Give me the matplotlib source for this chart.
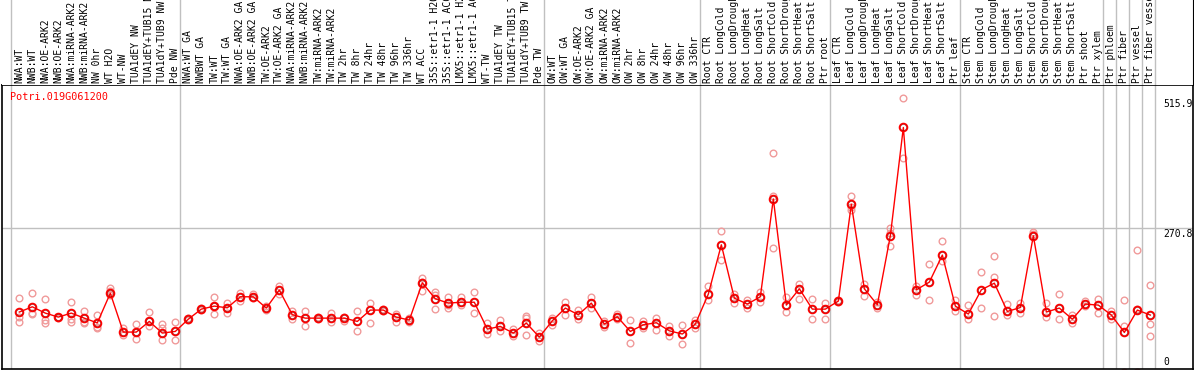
import numpy as np
import matplotlib
matplotlib.use('Agg')
import matplotlib.pyplot as plt

# sample labels (88 columns)
labels = [
    'NWA:WT', 'NWB:WT', 'NWA:OE-ARK2', 'NWB:OE-ARK2', 'NWA:miRNA-ARK2', 'NWB:miRNA-ARK2',
    'NW 0hr', 'WT H2O', 'WT-NW', 'TUA1dEY NW', 'TUA1dEY+TUB15 NW', 'TUA1dY+TUB9 NW', 'Pde NW',
    'NWA:WT GA', 'NWBWT GA', 'TW:WT', 'TW:WT GA', 'NWA:OE-ARK2 GA', 'NWB:OE-ARK2 GA',
    'TW:OE-ARK2', 'TW:OE-ARK2 GA', 'NWA:miRNA-ARK2 GA', 'NWB:miRNA-ARK2 GA', 'TW:miRNA-ARK2',
    'TW:miRNA-ARK2', 'TW 2hr', 'TW 8hr', 'TW 24hr', 'TW 48hr', 'TW 96hr', 'TW 336hr', 'WT ACC',
    '35S::etr1-1 H2O', '35S::etr1-1 ACC', 'LMX5::etr1-1 H2O', 'LMX5::etr1-1 ACC', 'WT-TW',
    'TUA1dEY TW', 'TUA1dEY+TUB15 TW', 'TUA1dY+TUB9 TW', 'Pde TW',
    'OW:WT', 'OW:WT GA', 'OW:OE-ARK2', 'OW:OE-ARK2 GA', 'OW:miRNA-ARK2', 'OW:miRNA-ARK2',
    'OW 2hr', 'OW 8hr', 'OW 24hr', 'OW 48hr', 'OW 96hr', 'OW 336hr',
    'Root CTR', 'Root LongCold', 'Root LongDrought', 'Root LongHeat', 'Root LongSalt',
    'Root ShortCold', 'Root ShortDrought', 'Root ShortHeat', 'Root ShortSalt', 'Ptr root',
    'Leaf CTR', 'Leaf LongCold', 'Leaf LongDrought', 'Leaf LongHeat', 'Leaf LongSalt',
    'Leaf ShortCold', 'Leaf ShortDrought', 'Leaf ShortHeat', 'Leaf ShortSalt', 'Ptr leaf',
    'Stem CTR', 'Stem LongCold', 'Stem LongDrought', 'Stem LongHeat', 'Stem LongSalt',
    'Stem ShortCold', 'Stem ShortDrought', 'Stem ShortHeat', 'Stem ShortSalt', 'Ptr shoot',
    'Ptr xylem', 'Ptr phloem', 'Ptr fiber', 'Ptr vessel', 'Ptr fiber vessel',
]

# mean expression per column
means = [
    112.5, 122.4, 110.5, 103, 110.5, 101, 92, 148, 74.7, 74.7, 94.8, 72.8, 75.9,
    99, 118, 123.7, 120.5, 141.3, 141.3, 120, 154, 107.4, 101, 101, 101, 101, 94.8, 116.2,
    116.2, 103, 97.3, 167.7, 137.5, 129.4, 131, 131, 80.3, 85.4, 72.8, 91.7, 65.3,
    96, 120, 107.4, 129.4, 89.8, 103.6, 75.9, 88.5, 92.3, 77, 71, 89.8,
    146.4, 239.4, 138.8, 127.5, 141.3, 326, 125.6, 156.4, 118, 118,
    133.2, 316, 156.4, 126.2, 256.4, 460.8, 154.5, 169, 220, 123.7,
    108.7, 154.5, 167, 113.6, 121, 256.4, 112.5, 120, 99, 127.5,
    125.6, 106.8, 74, 116.2, 106.8,
]

# replicate values per column
reps = [
    [139, 103, 94], [148, 110, 108], [137.5, 98, 92], [104, 103, 102], [131, 99, 93.5],
    [114, 93.5, 91], [106, 85, 81.6], [157.7, 153, 145], [81.5, 68.3], [90, 74.7, 60.8],
    [112.5, 94.8, 86], [89, 82, 59.6], [93.5, 59],
    [101, 97], [121, 116], [141, 123.7, 108.6], [128.7, 120.5, 111], [148, 133.8], [146, 139],
    [124, 116], [161.5, 146.4], [115, 100], [115, 86.6], [103, 99], [110, 93.5], [103, 96],
    [113.6, 76], [129.4, 92.3], [118, 114], [108.6, 93.5], [101, 93.5], [176.5, 170, 152.6],
    [150, 144, 118.6], [141.3, 126, 120], [140, 126], [150, 110.5], [92.3, 71], [97.3, 77],
    [80.3, 66.5], [105.4, 101, 69], [72.8, 58.3],
    [101, 88], [131, 107.4], [115.5, 98.5], [140, 120], [96, 85], [108.6, 98.5], [97.3, 54],
    [96, 82], [101, 79], [86, 66.5], [88.5, 52], [97.3, 82],
    [161.5, 136], [265.3, 209.8], [146.4, 128.7], [135.7, 121], [150, 131], [412.5, 332, 233],
    [141.3, 113], [165.3, 137.5], [137, 99], [129.4, 99],
    [135, 131], [331.3, 311, 305.5], [165.3, 142.6], [131, 120], [272, 262, 237], [516.2, 403],
    [160.8, 143.8], [203, 135.7], [246.4, 208], [135, 115],
    [125, 99.8], [188, 120], [218, 179, 105], [128, 106], [129.4, 110], [264.5, 260],
    [129.4, 104], [146.4, 99], [107, 91], [133.8, 124],
    [137, 110], [113.6, 99], [135.7, 86, 0], [230, 118, 0], [164, 89.8, 67],
]

# first column of each block (gridline drawn just before it)
group_starts = [0, 13, 41, 53, 63, 73, 84, 85, 86, 87, 88]
ytick_vals = [515.9, 270.8, 0]
gene = 'Potri.019G061200'

W, H = 1194, 370
fig = plt.figure(figsize=(W / 100, H / 100), dpi=100)
top_px = 85
ax = fig.add_axes([2 / W, 1 / H, 1191 / W, (H - top_px - 1) / H])
hx = fig.add_axes([2 / W, (H - top_px) / H, 1191 / W, top_px / H], sharex=ax)

x = np.arange(len(labels))
xlim = (-1.33, 90.28)
ylim = (5, 541)

grid_c = '#c0c0c0'
for g in group_starts:
    ax.axvline(g - 0.615, color=grid_c, lw=1, zorder=0)
    hx.axvline(g - 0.615, color=grid_c, lw=1, zorder=0)
ax.axhline(270.8, color=grid_c, lw=1, zorder=0)

# replicates
rx = [i for i, r in enumerate(reps) for _ in r]
ry = [v for r in reps for v in r]
ax.plot(rx, ry, 'o', ms=4.8, mfc='none', mec='#f09a9a', mew=1.0, zorder=2)

# mean line
ax.plot(x, means, '-', color='red', lw=1, zorder=3)
ax.plot(x, means, 'o', ms=5.6, mfc='none', mec='red', mew=1.3, zorder=4)
ax.plot(x, means, 'o', ms=4.3, mfc='none', mec='#700000', mew=0.45, alpha=0.6, zorder=5)

ax.set_xlim(*xlim)
ax.set_ylim(*ylim)
ax.set_xticks([])
ax.set_yticks([])
for s in ax.spines.values():
    s.set_color('black')
    s.set_linewidth(1.2)

mono = 'DejaVu Sans Mono'
ax.text(-0.7, 518, gene, color='red', fontsize=7.3, family=mono, va='center', ha='left')
for v in ytick_vals:
    if v == 0:
        ax.text(88.0, ylim[0] + 3, '0', fontsize=7, family=mono, va='bottom', ha='left')
    else:
        ax.text(88.0, v - 1, f'{v:.1f}', fontsize=7, family=mono, va='top', ha='left')

# header labels
hx.set_ylim(0, top_px)
hx.set_xticks([])
hx.set_yticks([])
for k, s in hx.spines.items():
    s.set_visible(k == 'right')
for i, lab in enumerate(labels):
    hx.text(i, 2, lab, rotation=90, fontsize=7, family=mono, ha='center', va='bottom',
            clip_on=True)

fig.savefig('out.png', dpi=100)
